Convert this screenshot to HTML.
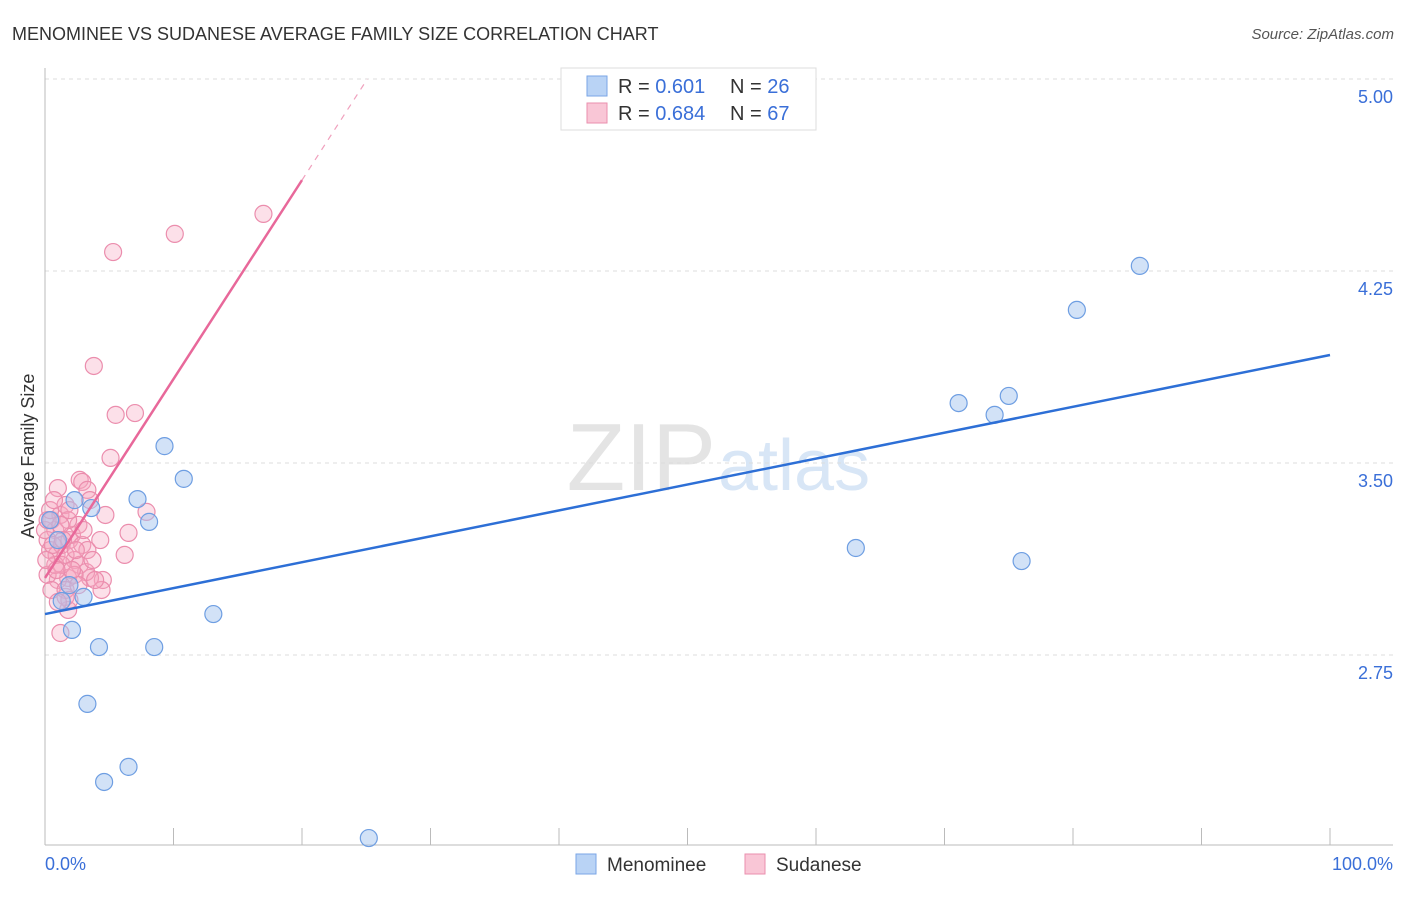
<!DOCTYPE html>
<html><head><meta charset="utf-8"><style>
body{margin:0;background:#fff;font-family:"Liberation Sans",sans-serif;}
svg text{font-family:"Liberation Sans",sans-serif;}
</style></head><body>
<svg id="chart" width="1406" height="892" xmlns="http://www.w3.org/2000/svg">
<text x="12" y="40" font-size="18" fill="#333">MENOMINEE VS SUDANESE AVERAGE FAMILY SIZE CORRELATION CHART</text>
<text x="1394" y="39" font-size="15" fill="#555" font-style="italic" text-anchor="end">Source: ZipAtlas.com</text>
<text x="716" y="490" font-size="96" fill="#e4e4e4" text-anchor="end" font-family="Liberation Serif">ZIP</text>
<text x="718" y="490" font-size="72" fill="#d8e6f6">atlas</text>
<text transform="translate(34,456) rotate(-90)" font-size="18" fill="#333" text-anchor="middle">Average Family Size</text>
<g id="grid"></g><g id="axes"></g><g id="pts"></g><g id="lines"></g>
<g>
<rect x="561" y="68" width="255" height="62" fill="#fff" stroke="#ddd"/>
<rect x="587" y="76" width="20" height="20" fill="#b9d3f5" stroke="#7aa6e6"/>
<text x="618" y="93" font-size="20" fill="#333">R = <tspan fill="#3a6fd8">0.601</tspan></text>
<text x="730" y="93" font-size="20" fill="#333">N = <tspan fill="#3a6fd8">26</tspan></text>
<rect x="587" y="103" width="20" height="20" fill="#f9c6d6" stroke="#ea8fae"/>
<text x="618" y="120" font-size="20" fill="#333">R = <tspan fill="#3a6fd8">0.684</tspan></text>
<text x="730" y="120" font-size="20" fill="#333">N = <tspan fill="#3a6fd8">67</tspan></text>
</g>
<g>
<rect x="576" y="854" width="20" height="20" fill="#b9d3f5" stroke="#7aa6e6"/>
<text x="607" y="871" font-size="19" fill="#333">Menominee</text>
<rect x="745" y="854" width="20" height="20" fill="#f9c6d6" stroke="#ea8fae"/>
<text x="776" y="871" font-size="19" fill="#333">Sudanese</text>
</g>
</svg>
<script>
const yTicks=[5.00,4.25,3.50,2.75];
const yTickLabels=["5.00","4.25","3.50","2.75"];
const xTickLabels=["0.0%","100.0%"];
const blueX=[2.3,3.6,7.2,8.1,9.3,10.8,1.3,3.0,2.1,4.2,8.5,13.1,3.3,6.5,4.6,25.2,63.1,76.0,71.1,73.9,75.0,80.3,85.2,0.4,1.0,1.9];
const blueY=[3.355,3.324,3.359,3.270,3.566,3.438,2.961,2.977,2.848,2.781,2.781,2.910,2.559,2.313,2.254,2.035,3.168,3.117,3.734,3.688,3.762,4.098,4.270,3.277,3.199,3.023];
const pinkX=[17.0,10.1,5.3,3.8,5.5,7.0,5.1,2.7,2.9,1.0,3.3,4.7,7.9,6.5,6.2,4.5,4.4,1.2,1.8,1.6,0.5,0.8,0.2,0.4,0.9,1.3,1.9,2.3,2.7,3.5,1.8,1.0,0.2,0.5,2.1,1.2,1.6,2.6,2.9,1.3,0.8,0,0.2,0.4,3.2,2.3,3.9,1.6,1.9,1.0,2.6,3.3,1.8,0.7,1.2,1.6,2.1,3.0,3.5,4.3,0.1,0.6,1.4,2.4,3.7,0.9,1.9];
const pinkY=[4.473,4.395,4.324,3.879,3.688,3.695,3.520,3.434,3.426,3.402,3.395,3.297,3.309,3.227,3.141,3.043,3.004,2.836,2.926,2.977,3.277,3.238,3.199,3.160,3.141,3.180,3.199,3.121,3.102,3.051,3.051,3.043,3.063,3.004,3.219,3.297,3.336,3.258,3.180,3.102,3.102,3.238,3.277,3.316,3.074,3.063,3.043,3.004,2.965,2.957,3.023,3.160,3.277,3.355,3.258,3.141,3.082,3.238,3.355,3.199,3.121,3.180,3.199,3.160,3.121,3.082,3.316];
const blueFit=[2.910,3.922];
const pinkFit=[3.051,0.0777];
const X0=45,X1=1330,Y5=79,PPU=256;
const sx=v=>X0+(X1-X0)*v/100, sy=v=>Y5+(5-v)*PPU;
const NS="http://www.w3.org/2000/svg";
function mk(p,t,a){const e=document.createElementNS(NS,t);for(const k in a)e.setAttribute(k,a[k]);document.getElementById(p).appendChild(e);return e;}
yTicks.forEach((v,i)=>{
 const g=mk('grid','line',{x1:45,x2:1393,y1:sy(v),y2:sy(v),stroke:'#ddd','stroke-dasharray':'4,4'});
 
 
 const t=mk('grid','text',{x:1393,y:sy(v)+24,'font-size':18,fill:'#3a6fd8','text-anchor':'end'});t.textContent=yTickLabels[i];
 
 
});
const ax=mk('axes','line',{x1:45,x2:45,y1:68,y2:845,stroke:'#bbb'});


const bx=mk('axes','line',{x1:45,x2:1393,y1:845,y2:845,stroke:'#bbb'});


for(let i=0;i<=10;i++){const t=mk('axes','line',{x1:sx(i*10),x2:sx(i*10),y1:828,y2:845,stroke:'#bbb'});
 
 }
[[0,'start',45],[100,'end',1393]].forEach((d,i)=>{const t=mk('axes','text',{x:d[2],y:870,'font-size':18,fill:'#3a6fd8','text-anchor':d[1]});t.textContent=xTickLabels[i];
 
 });
pinkX.forEach((x,i)=>{const c=mk('pts','circle',{cx:sx(x),cy:sy(pinkY[i]),r:8.5,fill:'rgba(245,165,192,0.35)',stroke:'#eb8dad','stroke-width':1.2});
 
 });
blueX.forEach((x,i)=>{const c=mk('pts','circle',{cx:sx(x),cy:sy(blueY[i]),r:8.5,fill:'rgba(165,198,240,0.5)',stroke:'#6e9ee2','stroke-width':1.2});
 
 });
const bl=mk('lines','line',{x1:sx(0),y1:sy(blueFit[0]),x2:sx(100),y2:sy(blueFit[1]),stroke:'#2d6fd6','stroke-width':2.5});


const pe=20,pd=(5-pinkFit[0])/pinkFit[1];
const pl=mk('lines','line',{x1:sx(0),y1:sy(pinkFit[0]),x2:sx(pe),y2:sy(pinkFit[0]+pinkFit[1]*pe),stroke:'#e8689a','stroke-width':2.5});


const pdl=mk('lines','line',{x1:sx(pe),y1:sy(pinkFit[0]+pinkFit[1]*pe),x2:sx(pd),y2:sy(5),stroke:'#f0a0bd','stroke-width':1.2,'stroke-dasharray':'6,6'});


</script>
</body></html>
